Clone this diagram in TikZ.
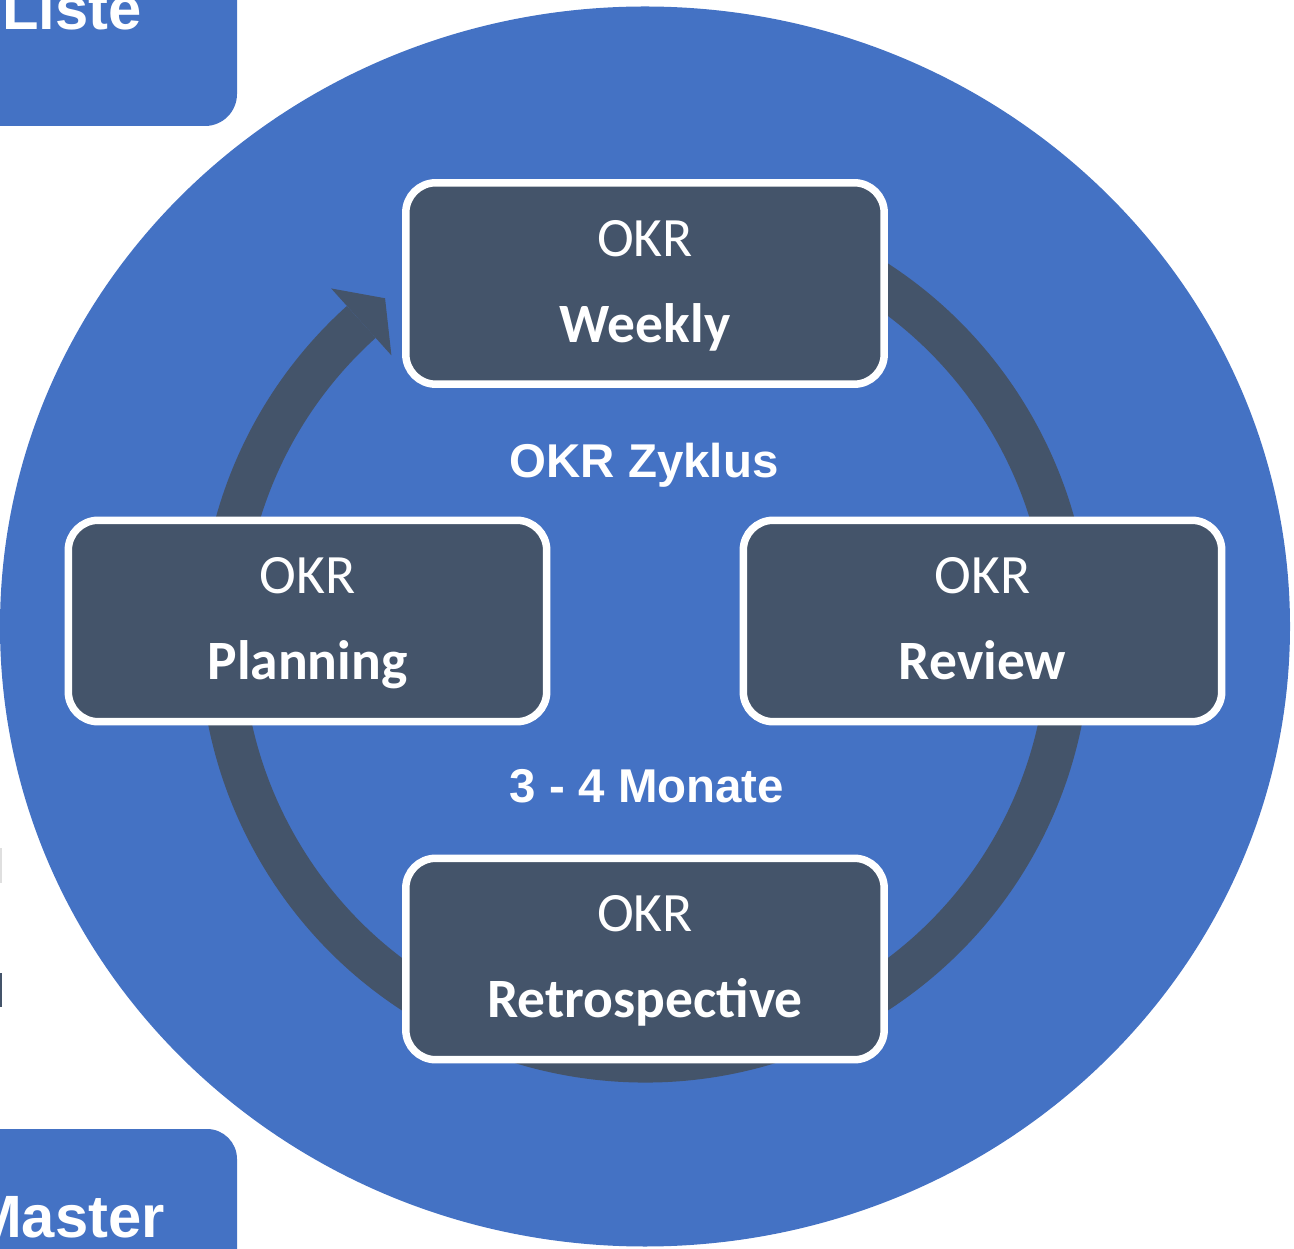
\documentclass[tikz,border=0pt]{standalone}
\usepackage{fontspec}
\setmainfont{Carlito}
\newfontfamily\headfont{Liberation Sans}
\usetikzlibrary{positioning}
\definecolor{CycleBlue}{RGB}{68, 114, 196}
\definecolor{Slate}{RGB}{68, 84, 106}
\newcommand{\okrstep}[1]{\rule{0pt}{0.74em}OKR\\\textbf{#1}\vphantom{g}}

\begin{document}
\begin{tikzpicture}[x=0.02cm, y=0.02cm,
        phase/.style={rounded corners=0.6cm, draw=white, line width=0.15cm, fill=Slate, text=white, minimum width=9.57cm, minimum height=4.03cm, align=center, font=\fontsize{31.6}{49}\selectfont},
        cyclelabel/.style={text=white, font=\headfont\bfseries\fontsize{27}{30}\selectfont, inner sep=0pt},
        sidelabel/.style={text=white, font=\headfont\bfseries\fontsize{34}{40}\selectfont, inner sep=0pt}
    ]
    \useasboundingbox (0,0) rectangle (1294,1248);
    \clip (0,0) rectangle (1294,1248);
    % cut-off panels at the left
    \fill[CycleBlue, rounded corners=0.64cm] (-40,1122) rectangle (237,1290);
    \fill[CycleBlue, rounded corners=0.6cm] (-40,-40) rectangle (237,119);
    \node[sidelabel, anchor=base west] (liste) at (2,1218) {Liste};
    \node[sidelabel, anchor=base east] (master) at (165,11) {Master};
    \fill[gray!25] (0,365) rectangle (2,400);
    \fill[Slate] (0,241) rectangle (2,275);

    \fill[CycleBlue] (645,621.5) ellipse [x radius=645, y radius=620];
    % cycle arrow
    \begin{scope}[shift={(645,611)}]
        \draw[Slate, line width=0.86cm] (120:424) arc[start angle=120, end angle=-228, radius=424];
        \fill[Slate] (132:469) -- (127.5:427) -- (132:379) -- cycle;
    \end{scope}

    \node[phase] (weekly) at (645,964.5) {\okrstep{Weekly}};
    \node[phase] (planning) at (307.5,627) {\okrstep{Planning}};
    \node[phase] (review) at (982.5,627) {\okrstep{Review}};
    \node[phase] (retro) at (645,289) {\okrstep{Retrospective}};

    \node[cyclelabel, anchor=base] (zyklus) at (644,770) {OKR Zyklus};
    \node[cyclelabel, anchor=base] (dauer) at (647,445) {3 - 4 Monate};
\end{tikzpicture}
\end{document}
